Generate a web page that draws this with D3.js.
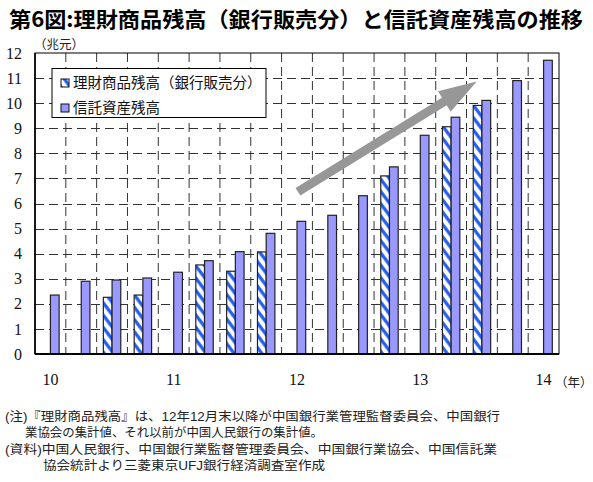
<!DOCTYPE html>
<html lang="ja">
<head>
<meta charset="UTF-8">
<title>第6図</title>
<script src="https://d3js.org/d3.v7.min.js"></script>
<style>
  body { margin: 0; background: #fff; }
  svg { display: block; }
</style>
</head>
<body>
<svg width="593" height="482"></svg>
<script>
// quarterly categories, 2010 - 2014
const quarters = ["10Q1","10Q2","10Q3","10Q4","11Q1","11Q2","11Q3","11Q4",
                  "12Q1","12Q2","12Q3","12Q4","13Q1","13Q2","13Q3","13Q4","14Q1"];
// 信託資産残高 (兆元)
const trustValues = [2.35, 2.90, 2.95, 3.03, 3.26, 3.72, 4.08, 4.81,
                     5.29, 5.53, 6.31, 7.46, 8.72, 9.44, 10.11, 10.90, 11.71];
// 理財商品残高(銀行販売分) (兆元)
const wmpValues = [null, null, 2.26, 2.35, null, 3.55, 3.30, 4.07,
                   null, null, null, 7.10, null, 9.06, 9.91, null, null];
const yearLabels = ["10", "11", "12", "13", "14"];
const yearQuarters = ["10Q1", "11Q1", "12Q1", "13Q1", "14Q1"];
const yTicks = [0,1,2,3,4,5,6,7,8,9,10,11,12];
// trend arrow, in (category index, value)
const arrowFrom = [8.53, 6.47];
const arrowTo = [14.33, 10.86];

const serif = "'Liberation Serif', 'Times New Roman', serif";
const jp = "'Noto Sans CJK JP', sans-serif";
const noteFont = "'Liberation Sans', 'Noto Sans CJK JP', sans-serif";

const svg = d3.select("svg");
const pL = 35, pR = 559, pT = 53, pB = 354;

const x = d3.scaleBand().domain(quarters).range([pL, pR])
    .paddingInner(0.435).paddingOuter(0.2175);
const xi = d3.scaleLinear().domain([0, quarters.length]).range([pL, pR]);
const y = d3.scaleLinear().domain([0, 12]).range([pB, pT]);
const half = x.bandwidth() / 2;

// hatch pattern
const defs = svg.append("defs");
const pat = defs.append("pattern")
    .attr("id", "hatch")
    .attr("patternUnits", "userSpaceOnUse")
    .attr("width", 10).attr("height", 7.4)
    .attr("patternTransform", "rotate(53)");
pat.append("rect").attr("width", 10).attr("height", 7.4).attr("fill", "#fff");
pat.append("rect").attr("y", 2).attr("width", 10).attr("height", 3.2).attr("fill", "#1f5cf0");

// title
svg.append("text")
    .attr("x", 9).attr("y", 27)
    .attr("font-family", jp).attr("font-weight", "bold").attr("font-size", 21)
    .attr("textLength", 574).attr("lengthAdjust", "spacingAndGlyphs")
    .text("第6図:理財商品残高（銀行販売分）と信託資産残高の推移");

svg.append("text")
    .attr("x", 34).attr("y", 49)
    .attr("font-family", jp).attr("font-size", 12.5).attr("fill", "#222")
    .text("（兆元）");

// grid
const grid = svg.append("g").attr("stroke", "#333").attr("stroke-width", 1)
    .attr("stroke-dasharray", "9,5");
grid.selectAll(".h").data(yTicks.slice(1, -1)).join("line")
    .attr("x1", pL).attr("x2", pR)
    .attr("y1", d => Math.round(y(d)) + 0.5).attr("y2", d => Math.round(y(d)) + 0.5);
grid.selectAll(".v").data(d3.range(1, quarters.length)).join("line")
    .attr("x1", d => xi(d)).attr("x2", d => xi(d))
    .attr("y1", pT).attr("y2", pB);

// frame
svg.append("rect")
    .attr("x", pL).attr("y", pT)
    .attr("width", pR - pL).attr("height", pB - pT)
    .attr("fill", "none").attr("stroke", "#000").attr("stroke-width", 1);
svg.append("line").attr("x1", pL).attr("x2", pL).attr("y1", pT).attr("y2", pB)
    .attr("stroke", "#000").attr("stroke-width", 1.6);

// legend
const lg = svg.append("g");
lg.append("rect").attr("x", 52).attr("y", 68.5).attr("width", 214).attr("height", 49)
    .attr("fill", "#fff").attr("stroke", "#000").attr("stroke-width", 1);
const legendItems = [
    { name: "理財商品残高（銀行販売分）", fill: "url(#hatch)" },
    { name: "信託資産残高", fill: "#9999ff" }
];
legendItems.forEach((d, i) => {
    const yy = 79 + i * 25;
    lg.append("rect").attr("x", 61).attr("y", yy).attr("width", 8).attr("height", 8)
        .attr("fill", d.fill).attr("stroke", "#111").attr("stroke-width", 1);
    lg.append("text").attr("x", 73).attr("y", yy + 9)
        .attr("font-family", jp).attr("font-size", 14.5).attr("fill", "#111")
        .text(d.name);
});

// bars
const bars = svg.append("g").attr("stroke", "#222").attr("stroke-width", 1.2);
bars.selectAll(".wmp").data(quarters.map((q, i) => ({ q, v: wmpValues[i] })).filter(d => d.v != null))
    .join("rect")
    .attr("x", d => x(d.q)).attr("width", half)
    .attr("y", d => y(d.v)).attr("height", d => pB - y(d.v))
    .attr("fill", "url(#hatch)");
bars.selectAll(".trust").data(quarters.map((q, i) => ({ q, v: trustValues[i] })))
    .join("rect")
    .attr("x", d => x(d.q) + half).attr("width", half)
    .attr("y", d => y(d.v)).attr("height", d => pB - y(d.v))
    .attr("fill", "#9999ff");

// bottom axis line over bars
svg.append("line").attr("x1", pL).attr("x2", pR).attr("y1", pB).attr("y2", pB)
    .attr("stroke", "#000").attr("stroke-width", 2);

// arrow
const p0 = [xi(arrowFrom[0]), y(arrowFrom[1])];
const p1 = [xi(arrowTo[0]), y(arrowTo[1])];
const dx = p1[0] - p0[0], dy = p1[1] - p0[1], len = Math.hypot(dx, dy);
const ux = dx / len, uy = dy / len, nx = -uy, ny = ux;
const sw = 4.5, hw = 12, hl = 38;
const b = [p1[0] - ux * hl, p1[1] - uy * hl];
const pts = [
    [p0[0] + nx * sw, p0[1] + ny * sw],
    [b[0] + nx * sw, b[1] + ny * sw],
    [b[0] + nx * hw, b[1] + ny * hw],
    p1,
    [b[0] - nx * hw, b[1] - ny * hw],
    [b[0] - nx * sw, b[1] - ny * sw],
    [p0[0] - nx * sw, p0[1] - ny * sw]
];
svg.append("path").attr("d", d3.line()(pts) + "Z").attr("fill", "#979797");

// y axis labels
svg.append("g")
    .attr("transform", `translate(${pL},0)`)
    .call(d3.axisLeft(y).tickValues(yTicks).tickSize(0).tickPadding(13))
    .call(g => g.select(".domain").remove())
    .selectAll("text").attr("font-family", serif).attr("font-size", 16).attr("fill", "#111");

// x axis year labels
const yearOf = {};
yearQuarters.forEach((q, i) => yearOf[q] = yearLabels[i]);
svg.append("g")
    .attr("transform", `translate(0,${pB})`)
    .call(d3.axisBottom(x).tickValues(yearQuarters).tickFormat(q => yearOf[q]).tickSize(0).tickPadding(20))
    .call(g => g.select(".domain").remove())
    .selectAll("text").attr("font-family", serif).attr("font-size", 16).attr("fill", "#111");

svg.append("text").attr("x", 555).attr("y", 387)
    .attr("font-family", jp).attr("font-size", 12.5).attr("fill", "#222")
    .text("（年）");

// notes
const notes = [
    { x: 5, y: 421, w: 495, t: "(注)『理財商品残高』は、12年12月末以降が中国銀行業管理監督委員会、中国銀行" },
    { x: 25, y: 437, w: 298, t: "業協会の集計値、それ以前が中国人民銀行の集計値。" },
    { x: 5, y: 454, w: 492, t: "(資料)中国人民銀行、中国銀行業監督管理委員会、中国銀行業協会、中国信託業" },
    { x: 43, y: 470, w: 282, t: "協会統計より三菱東京UFJ銀行経済調査室作成" }
];
svg.append("g").selectAll("text").data(notes).join("text")
    .attr("x", d => d.x).attr("y", d => d.y)
    .attr("textLength", d => d.w).attr("lengthAdjust", "spacingAndGlyphs")
    .attr("font-family", noteFont).attr("font-size", 12.5).attr("fill", "#222")
    .text(d => d.t);
</script>
</body>
</html>
